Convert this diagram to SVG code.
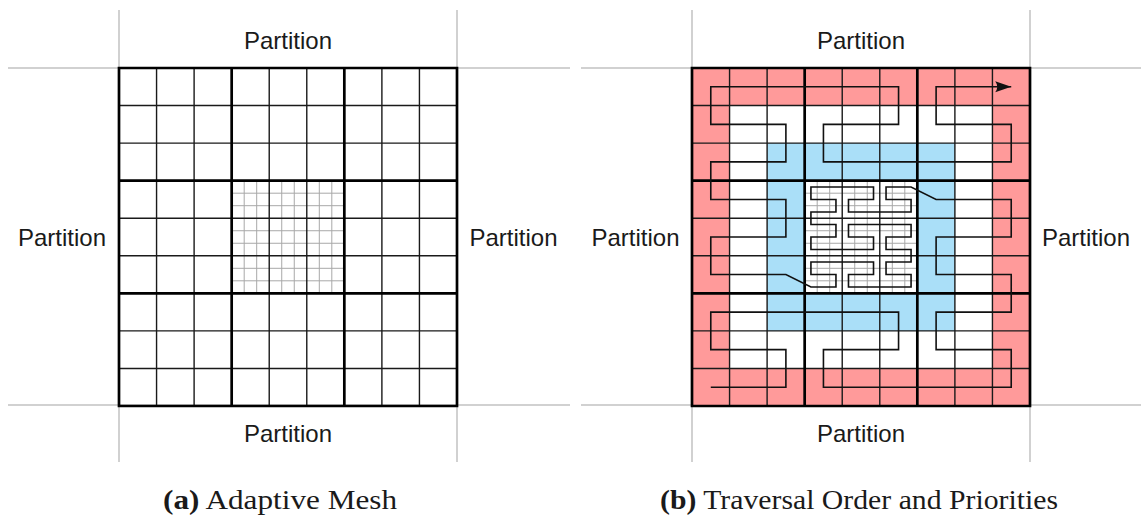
<svg xmlns="http://www.w3.org/2000/svg" width="1147" height="520" viewBox="0 0 1147 520">
<style>
.part{stroke:#a3a3a3;stroke-width:1;fill:none}
.lbl{font-family:"Liberation Sans",Arial,sans-serif;font-size:24px;fill:#1a1a1a;text-anchor:middle}
.cap{font-family:"Liberation Serif","Times New Roman",serif;font-size:28px;fill:#1a1a1a}
.fine{stroke:#a8a8a8;stroke-width:1;fill:none}
.cell{stroke:#1a1a1a;stroke-width:1.4;fill:none}
.block{stroke:#000;stroke-width:2.7;fill:none}
.red{fill:#ff9a9a}
.blue{fill:#aadff8}
.trav{stroke:#111;stroke-width:1.6;fill:none;stroke-linejoin:miter}
</style>
<defs>
<marker id="arr" markerUnits="userSpaceOnUse" markerWidth="18" markerHeight="14" viewBox="0 0 18 14" refX="17" refY="7" orient="auto">
<path d="M1,1.5 Q5,7 1,12.5 L17,7 Z" fill="#111"/>
</marker>
<g id="mesh">
<path class="fine" d="M125.19,112.67V225.33M137.70,112.67V225.33M162.74,112.67V225.33M175.26,112.67V225.33M200.30,112.67V225.33M212.81,112.67V225.33M112.67,125.19H225.33M112.67,137.70H225.33M112.67,162.74H225.33M112.67,175.26H225.33M112.67,200.30H225.33M112.67,212.81H225.33"/>
<path class="cell" d="M37.56,0V338M75.11,0V338M150.22,0V338M187.78,0V338M262.89,0V338M300.44,0V338M0,37.56H338M0,75.11H338M0,150.22H338M0,187.78H338M0,262.89H338M0,300.44H338"/>
<path class="block" d="M0,0H338V338H0ZM112.67,0V338M225.33,0V338M0,112.67H338M0,225.33H338"/>
</g>
</defs>

<g id="panel-a">
<g id="a-partition-lines">
<path class="part" d="M119,10V462M457,10V462M8,68H570M8,405H570"/>
</g>
<g id="a-label-top"><text class="lbl" x="288" y="49">Partition</text></g>
<g id="a-label-bottom"><text class="lbl" x="288" y="442">Partition</text></g>
<g id="a-label-left"><text class="lbl" x="62" y="246">Partition</text></g>
<g id="a-label-right"><text class="lbl" x="513.5" y="246">Partition</text></g>
<g id="a-mesh"><use href="#mesh" transform="translate(119,68)"/></g>
<g id="a-caption"><text class="cap" x="163" y="509" textLength="234" lengthAdjust="spacingAndGlyphs"><tspan font-weight="bold">(a)</tspan> Adaptive Mesh</text></g>
</g>

<g id="panel-b">
<g id="b-partition-lines">
<path class="part" d="M692,10V462M1030,10V462M581,68H1141M581,405H1141"/>
</g>
<g id="b-label-top"><text class="lbl" x="861" y="49">Partition</text></g>
<g id="b-label-bottom"><text class="lbl" x="861" y="442">Partition</text></g>
<g id="b-label-left"><text class="lbl" x="635.5" y="246">Partition</text></g>
<g id="b-label-right"><text class="lbl" x="1086" y="246">Partition</text></g>
<g id="b-priorities" transform="translate(692,68)">
<path class="red" fill-rule="evenodd" d="M0,0H338V338H0ZM37.56,37.56V300.44H300.44V37.56Z"/>
<path class="blue" fill-rule="evenodd" d="M75.11,75.11H262.89V262.89H75.11ZM112.67,112.67V225.33H225.33V112.67Z"/>
</g>
<g id="b-mesh"><use href="#mesh" transform="translate(692,68)"/></g>
<g id="b-caption"><text class="cap" x="660" y="509" textLength="398" lengthAdjust="spacingAndGlyphs"><tspan font-weight="bold">(b)</tspan> Traversal Order and Priorities</text></g>
</g>

<g id="connectors">
<path class="trav" marker-end="url(#arr)" d="M710.78,387.22H785.89V349.67H710.78V312.11H898.56V349.67H823.44V387.22H1011.22V349.67H936.11V312.11H1011.22V274.56H936.11V237H1011.22V199.44H936.11L911.07,186.93H886.04V199.44H911.07V211.96H848.48V199.44H873.52V186.93H810.93V199.44H835.96V211.96H810.93V224.48H835.96V237H810.93V249.52H873.52V237H848.48V224.48H911.07V237H886.04V249.52H911.07V262.04H886.04V274.56H911.07V287.07H848.48V274.56H873.52V262.04H810.93V274.56H835.96V287.07H810.93L785.89,274.56H710.78V237H785.89V199.44H710.78V161.89H785.89V124.33H710.78V86.78H898.56V124.33H823.44V161.89H1011.22V124.33H936.11V86.78H1011.22"/>
</g>
</svg>
